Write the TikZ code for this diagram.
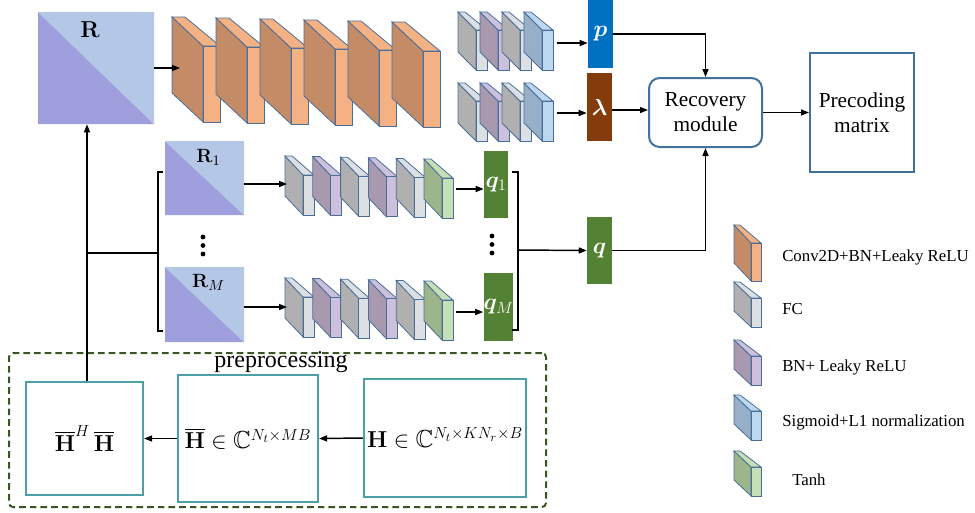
\documentclass[tikz,border=0pt]{standalone}
\usepackage[no-math]{fontspec}
\setmainfont{Liberation Serif}
\usepackage{amsmath,amssymb,bm}
\usetikzlibrary{arrows.meta}

\definecolor{covlight}{HTML}{B4C7E7}
\definecolor{covdark}{HTML}{9F9FDD}
\definecolor{convside}{HTML}{C48C66}
\definecolor{convfront}{HTML}{F4B183}
\definecolor{fcside}{HTML}{B0B0B0}
\definecolor{fcfront}{HTML}{DDE0E3}
\definecolor{bnside}{HTML}{A899AE}
\definecolor{bnfront}{HTML}{CDC0DC}
\definecolor{sigside}{HTML}{97AFC8}
\definecolor{sigfront}{HTML}{BDD7EE}
\definecolor{tanhside}{HTML}{9DB58A}
\definecolor{tanhfront}{HTML}{C5E0B4}
\definecolor{layeredge}{HTML}{4A6E9A}
\definecolor{pblue}{HTML}{0070C0}
\definecolor{lambrown}{HTML}{843C0C}
\definecolor{qgreen}{HTML}{548235}
\definecolor{modedge}{HTML}{41719C}
\definecolor{preedge}{HTML}{4AA0A6}
\definecolor{dashgreen}{HTML}{385723}

\def\u{0.75pt}
\newcommand{\fs}[1]{\fontsize{#1}{#1}\selectfont}
% one layer: front x, front y, width, height, depth x, depth y, colour
\newcommand{\layer}[7]{%
  \filldraw[fill=#7side, draw=layeredge, line width=0.6pt] (#1,#2) -- ++(-#5,-#6) -- ++(0,#4) -- (#1,#2+#4) -- cycle;
  \filldraw[fill=#7front, draw=layeredge, line width=0.6pt] (#1,#2) -- ++(-#5,-#6) -- ++(#3-4,0) -- (#1+#3,#2) -- cycle;
  \filldraw[fill=#7front, draw=layeredge, line width=0.6pt] (#1,#2) rectangle ++(#3,#4);
}

\tikzset{
  cov/.style={inner sep=0pt, path picture={
      \fill[covdark] (path picture bounding box.north west) -- (path picture bounding box.south east) -- (path picture bounding box.south west) -- cycle;
      \fill[covlight] (path picture bounding box.north west) -- (path picture bounding box.north east) -- (path picture bounding box.south east) -- cycle;}},
  covlab/.style={anchor=north, yshift=-3pt},
  outvec/.style={inner sep=0pt, text=white}
}
\tikzstyle{arr} = [draw, line width=1.1pt, -{Triangle[length=6pt,width=4.5pt]}]
\tikzstyle{brace} = [draw, line width=1.1pt]
\tikzstyle{module} = [draw=modedge, line width=1.5pt, align=center, font=\fontsize{16}{18.75}\selectfont]
\tikzstyle{chbox} = [draw=preedge, line width=1.6pt, font=\fs{18.5}]
\tikzstyle{legend} = [anchor=west, inner sep=0pt, font=\fs{12.6}]

\begin{document}
\begin{tikzpicture}[x=\u, y=-\u]
    \useasboundingbox (0,0) rectangle (975,512);

    % covariance inputs
    \node[cov, minimum width=116*\u, minimum height=112*\u, label={[covlab, xshift=-4.5pt, yshift=-1pt, font=\fs{18.5}]north:$\mathbf{R}$}] (R) at (96,68) {};
    \node[cov, minimum width=79*\u, minimum height=74*\u, label={[covlab, xshift=3pt, font=\fs{15}]north:$\mathbf{R}_1$}] (R1) at (204.5,178) {};
    \node[cov, minimum width=79*\u, minimum height=75*\u, label={[covlab, xshift=3pt, yshift=1pt, font=\fs{15}]north:$\mathbf{R}_M$}] (RM) at (204.5,304.5) {};
    \foreach \yy in {237,245.5,254} \fill (203,\yy) circle[radius=1.8pt];

    % conv layers
    \foreach \i in {0,...,5} {
        \layer{203+44*\i}{46+\i}{17}{76}{31}{29}{conv}
    }

    \foreach \col [count=\i from 0] in {fc,bn,fc,sig} {
        \layer{476+22*\i}{30}{11}{40}{18}{18}{\col}
        \layer{476+22*\i}{101}{11}{40}{18}{18}{\col}
    }
    \foreach \col [count=\i from 0] in {fc,bn,fc,bn,fc,tanh} {
        \layer{303+27.8*\i}{175+0.6*\i}{11}{40}{18}{19}{\col}
        \layer{303+27.8*\i}{297+0.6*\i}{11}{40}{18}{19}{\col}
    }

    % outputs
    \node[outvec, fill=pblue, minimum width=25*\u, minimum height=68*\u, font=\fs{19}] (p) at (600.5,34) {$\bm{p}$};
    \node[outvec, fill=lambrown, minimum width=25*\u, minimum height=68*\u, font=\fs{17}] (lam) at (599.5,107) {$\bm{\lambda}$};
    \node[outvec, fill=qgreen, minimum width=24*\u, minimum height=67*\u, font=\fs{17}] (q1) at (496,184.5) {$\bm{q}_1$};
    \node[outvec, fill=qgreen, minimum width=27*\u, minimum height=68*\u, font=\fs{17}] (qM) at (498.5,307) {$\bm{q}_M$};
    \node[outvec, fill=qgreen, minimum width=25*\u, minimum height=67*\u, font=\fs{19}] (q) at (599.5,250.5) {$\bm{q}$};
    \foreach \yy in {236,244.5,253} \fill (492,\yy) circle[radius=1.8pt];

    \node[module, rounded corners=8pt, minimum width=113*\u, minimum height=69*\u] (rec) at (705.5,112.5) {Recovery\\module};
    \node[module, minimum width=104*\u, minimum height=119*\u] (prec) at (862,112.5) {Precoding\\matrix};

    % preprocessing
    \node[draw=dashgreen, dashed, dash pattern=on 5pt off 3pt, line width=1.5pt, rounded corners=3pt, minimum width=537*\u, minimum height=154*\u] (prep) at (277.5,430) {};
    \node[font=\fs{18}, inner sep=0pt] (preplab) at (281,362) {preprocessing};
    \node[chbox, minimum width=117*\u, minimum height=113*\u] (HH) at (84.5,438.5) {$\overline{\mathbf{H}}^{H}\,\overline{\mathbf{H}}$};
    \node[chbox, minimum width=140*\u, minimum height=127*\u, inner sep=0pt] (Hbar) at (248,438.5) {$\overline{\mathbf{H}}\in\mathbb{C}^{N_t\times MB}$};
    \node[chbox, minimum width=162*\u, minimum height=118*\u, inner sep=0pt] (Hbox) at (445,438) {$\mathbf{H}\in\mathbb{C}^{N_t\times KN_r\times B}$};

    % legend
    \layer{751}{243}{10}{38}{17}{18}{conv}
    \node[legend] (legconv) at (782,257) {Conv2D+BN+Leaky ReLU};
    \foreach \col/\yy/\txt in {fc/298/FC, bn/356/BN+ Leaky ReLU, sig/411/Sigmoid+L1 normalization} {
        \layer{751}{\yy}{10}{29}{17}{16}{\col}
        \node[legend] (leg\col) at (782,\yy+11) {\txt};
    }
    \layer{751}{467}{10}{29}{17}{16}{tanh}
    \node[legend] (legtanh) at (792,480) {Tanh};

    % connectors
    \coordinate (convin) at (180,68);
    \coordinate (pin) at (557,43);
    \coordinate (lamin) at (557,113);
    \coordinate (m1in) at (287,184);
    \coordinate (mMin) at (287,307);
    \coordinate (m1out) at (456,189);
    \coordinate (mMout) at (456,312);
    \coordinate (split) at (87,253);
    \coordinate (brL) at (158,253);
    \coordinate (brR) at (518,250);

    \draw[arr] (R.east) -- (convin);
    \draw[arr] (pin) -- (pin -| p.west);
    \draw[arr] (lamin) -- (lamin -| lam.west);
    \draw[arr] (m1in -| R1.east) -- (m1in);
    \draw[arr] (mMin -| RM.east) -- (mMin);
    \draw[arr] (m1out) -- (m1out -| q1.west);
    \draw[arr] (mMout) -- (mMout -| qM.west);

    \draw[arr] (p.east) -| (rec.north);
    \draw[arr] ([yshift=-2.25pt]lam.east) -- ([yshift=-2.25pt]lam.east -| rec.west);
    \draw[arr] (q.east) -| (rec.south);
    \draw[arr] (rec.east) -- (prec.west);

    \draw[brace] (163,172) -- (158,172) -- (158,331) -- (163,331);
    \draw[brace] (512,172) -- (518,172) -- (518,330) -- (512,330);
    \draw[brace] (split) -- (brL);
    \draw[arr] (brR) -- (q.west);

    \draw[arr] (split |- HH.north) -- (split |- R.south);
    \draw[arr] (Hbox.west) -- (Hbar.east);
    \draw[arr] (Hbar.west) -- (HH.east);
%    \draw[help lines] (0,0) grid[step=50] (975,512);
\end{tikzpicture}
\end{document}
